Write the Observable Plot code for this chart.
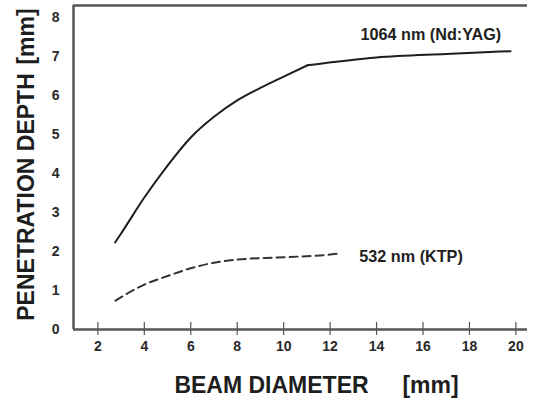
<!DOCTYPE html>
<html>
<head>
<meta charset="utf-8">
<script src="https://cdn.jsdelivr.net/npm/d3@7"></script>
<script src="https://cdn.jsdelivr.net/npm/@observablehq/plot@0.6"></script>
<style>
  html, body { margin: 0; padding: 0; background: #fff; }
  #chart svg { display: block; }
</style>
</head>
<body>
<div id="chart"></div>
<script>
// Tick values
const xTicks = [2, 4, 6, 8, 10, 12, 14, 16, 18, 20];
const yTicks = [0, 1, 2, 3, 4, 5, 6, 7, 8];

// 1064 nm (Nd:YAG) curve: curved rise up to the knee, then a near-straight plateau
const ndBeam  = [2.74, 3, 4, 5, 6, 7, 8, 9, 10, 11.03, 14, 17, 19.77];
const ndDepth = [2.23, 2.46, 3.38, 4.2, 4.92, 5.45, 5.87, 6.19, 6.48, 6.77, 6.97, 7.06, 7.13];
const ndKnee = 11.03;

// 532 nm (KTP) curve
const ktpBeam  = [2.76, 4, 5, 6, 7, 8, 10, 12, 12.3];
const ktpDepth = [0.74, 1.15, 1.37, 1.57, 1.71, 1.79, 1.85, 1.92, 1.94];

// Curve labels
const labelText = ["1064 nm (Nd:YAG)", "532 nm (KTP)"];
const labelX = [13.31, 13.26];
const labelY = [7.54, 1.87];

// Axis titles
const xTitle = "BEAM DIAMETER";
const yTitle = "PENETRATION DEPTH";
const unitTitle = "[mm]";

const xDomain = [0.95, 20.5];
const yDomain = [0, 8.3];

const nd = ndBeam.map((b, i) => ({beam: b, depth: ndDepth[i]}));
const ndRise = nd.filter(d => d.beam <= ndKnee);
const ndFlat = nd.filter(d => d.beam >= ndKnee);
const ktp = ktpBeam.map((b, i) => ({beam: b, depth: ktpDepth[i]}));
const labels = labelText.map((t, i) => ({text: t, x: labelX[i], y: labelY[i]}));

const font = "'Liberation Sans', Arial, Helvetica, sans-serif";
const frameColor = "#555";
const inkColor = "#1e1e1e";
const titleStyle = {fontSize: 23, fontWeight: "bold", fill: inkColor, textAnchor: "middle", lineAnchor: "middle"};

const chart = Plot.plot({
  width: 536,
  height: 400,
  marginLeft: 73,
  marginRight: 9,
  marginTop: 5,
  marginBottom: 71,
  style: {fontFamily: font, fontWeight: "bold", color: "#2a2a2a", background: "#fff"},
  x: {domain: xDomain},
  y: {domain: yDomain},
  marks: [
    // frame lines: left, top, bottom
    Plot.ruleX([xDomain[0]], {stroke: frameColor, strokeWidth: 2.5}),
    Plot.ruleY([yDomain[1]], {stroke: frameColor, strokeWidth: 2.5}),
    Plot.ruleY([yDomain[0]], {stroke: frameColor, strokeWidth: 2.5}),
    // x tick marks crossing the axis
    Plot.axisX({ticks: xTicks, tickSize: 13, dy: -7, tickFormat: () => "", label: null, stroke: "#555", strokeWidth: 1.2}),
    // x tick labels
    Plot.axisX({ticks: xTicks, tickSize: 0, tickPadding: 12, fontSize: 14, label: null}),
    // y tick labels (no tick marks)
    Plot.axisY({ticks: yTicks, tickSize: 0, tickPadding: 14, fontSize: 14, label: null}),
    // curves
    Plot.line(ndRise, {x: "beam", y: "depth", curve: "monotone-x", stroke: inkColor, strokeWidth: 2}),
    Plot.line(ndFlat, {x: "beam", y: "depth", curve: "monotone-x", stroke: inkColor, strokeWidth: 2}),
    Plot.line(ktp, {x: "beam", y: "depth", curve: "monotone-x", stroke: "#333", strokeWidth: 2, strokeDasharray: "8,5"}),
    // curve labels
    Plot.text(labels, {x: "x", y: "y", text: "text", textAnchor: "start", fontSize: 16.2, fontWeight: "bold", fill: inkColor}),
    // axis titles
    Plot.text([xTitle], {frameAnchor: "bottom", text: d => d, dx: -29, dy: 56, ...titleStyle}),
    Plot.text([unitTitle], {frameAnchor: "bottom", text: d => d, dx: 130, dy: 56, ...titleStyle}),
    Plot.text([yTitle], {frameAnchor: "left", text: d => d, rotate: -90, dx: -47, dy: 29.5, ...titleStyle}),
    Plot.text([unitTitle], {frameAnchor: "left", text: d => d, rotate: -90, dx: -47, dy: -131, ...titleStyle})
  ]
});

document.getElementById("chart").appendChild(chart);
</script>
</body>
</html>
